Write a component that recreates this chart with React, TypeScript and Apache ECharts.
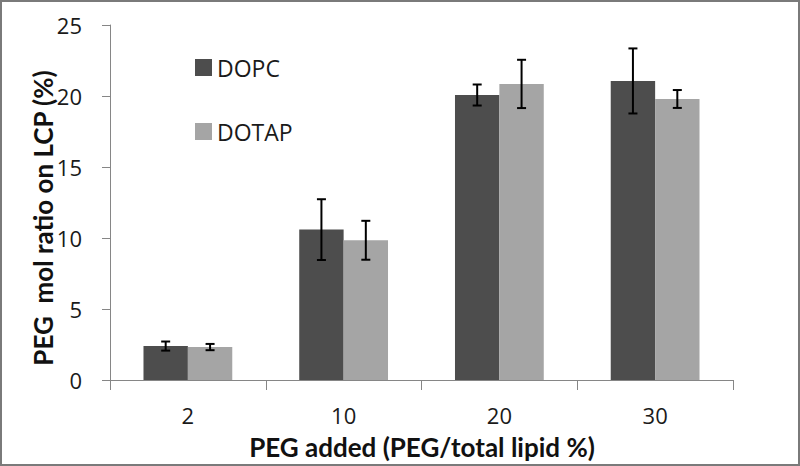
import React, { useEffect, useRef } from "react";
import * as echarts from "echarts";

const categories = ["2", "10", "20", "30"];
const dopcValues = [2.39, 10.59, 20.07, 21.06];
const dopcErrors = [0.32, 2.14, 0.74, 2.29];
const dotapValues = [2.32, 9.84, 20.85, 19.79];
const dotapErrors = [0.22, 1.37, 1.7, 0.63];
const seriesNames = ["DOPC", "DOTAP"];
const xTitle = "PEG added (PEG/total lipid %)";
const yTitle = "PEG\u00a0\u00a0mol ratio on LCP (%)";

const FONT = "'Open Sans', Lato, sans-serif";
const TITLE_FONT = "Lato, 'Open Sans', sans-serif";
const CAT_GAP = 0.43;

export default function App() {
  const ref = useRef<HTMLDivElement>(null);
  useEffect(() => {
    if (!ref.current) return;
    const chart = echarts.init(ref.current, undefined, { renderer: "svg" });

    const errData: number[][] = [];
    categories.forEach((_, i) => {
      errData.push([i, dopcValues[i], dopcErrors[i], -1]);
      errData.push([i, dotapValues[i], dotapErrors[i], 1]);
    });

    chart.setOption({
      animation: false,
      textStyle: { fontFamily: FONT },
      grid: { left: 110, right: 67, top: 25, bottom: 86 },
      legend: {
        orient: "vertical",
        left: 195,
        top: 56,
        padding: 0,
        itemWidth: 17,
        itemHeight: 17,
        itemGap: 41,
        icon: "rect",
        textStyle: { fontFamily: FONT, fontSize: 23, color: "#1a1a1a" },
        data: seriesNames,
      },
      graphic: [
        {
          type: "text",
          x: 422,
          y: 447,
          style: {
            text: xTitle,
            font: `bold 26px ${TITLE_FONT}`,
            lineHeight: 22,
            fill: "#111",
            align: "center",
            verticalAlign: "middle",
          },
        },
        {
          type: "text",
          x: 43,
          y: 218,
          rotation: Math.PI / 2,
          style: {
            text: yTitle,
            font: `bold 26px ${TITLE_FONT}`,
            lineHeight: 22,
            fill: "#111",
            align: "center",
            verticalAlign: "middle",
          },
        },
      ],
      xAxis: {
        type: "category",
        data: categories,
        axisLine: { lineStyle: { color: "#868686", width: 1 } },
        axisTick: { show: true, length: 10, lineStyle: { color: "#868686" } },
        axisLabel: { fontFamily: FONT, fontSize: 22, lineHeight: 20, color: "#1a1a1a", margin: 25 },
      },
      yAxis: {
        type: "value",
        min: 0,
        max: 25,
        interval: 5,
        splitLine: { show: false },
        axisLine: { show: true, lineStyle: { color: "#868686", width: 1 } },
        axisTick: { show: true, length: 8, lineStyle: { color: "#868686" } },
        axisLabel: { fontFamily: FONT, fontSize: 22, color: "#1a1a1a", margin: 28 },
      },
      series: [
        {
          name: seriesNames[0],
          type: "bar",
          data: dopcValues,
          barGap: "0%",
          barCategoryGap: CAT_GAP * 100 + "%",
          itemStyle: { color: "#4d4d4d" },
        },
        {
          name: seriesNames[1],
          type: "bar",
          data: dotapValues,
          barGap: "0%",
          barCategoryGap: CAT_GAP * 100 + "%",
          itemStyle: { color: "#a5a5a5" },
        },
        {
          type: "custom",
          data: errData,
          z: 10,
          renderItem: (params: any, api: any) => {
            const idx = api.value(0);
            const v = api.value(1);
            const e = api.value(2);
            const side = api.value(3);
            const band = api.size([1, 0])[0];
            const bw = (band * (1 - CAT_GAP)) / 2;
            const c = api.coord([idx, v]);
            const x = c[0] + (side * bw) / 2;
            const top = api.coord([idx, v + e])[1];
            const bot = api.coord([idx, v - e])[1];
            const cap = 4.5;
            const style = { stroke: "#000", lineWidth: 2 };
            return {
              type: "group",
              children: [
                { type: "line", shape: { x1: x, y1: top, x2: x, y2: bot }, style },
                { type: "line", shape: { x1: x - cap, y1: top, x2: x + cap, y2: top }, style },
                { type: "line", shape: { x1: x - cap, y1: bot, x2: x + cap, y2: bot }, style },
              ],
            };
          },
        },
      ],
    });
    return () => chart.dispose();
  }, []);

  return (
    <div
      style={{
        position: "fixed",
        left: 0,
        top: 0,
        width: 800,
        height: 466,
        boxSizing: "border-box",
        border: "2px solid #7a7a7a",
        background: "#fff",
      }}
    >
      <div ref={ref} style={{ position: "absolute", left: -2, top: -2, width: 800, height: 466 }} />
    </div>
  );
}
